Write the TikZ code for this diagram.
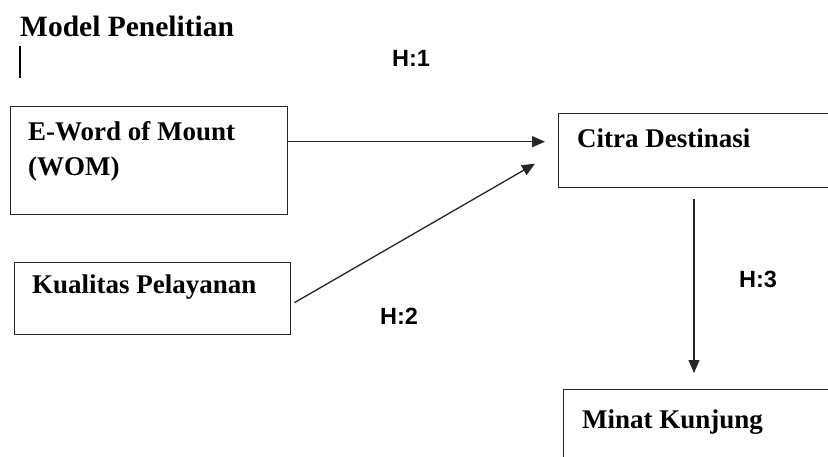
\documentclass[tikz,border=0pt]{standalone}
\usepackage{fontspec}
\setmainfont{Liberation Serif}
\newfontfamily\hfont{Liberation Sans}
\usetikzlibrary{arrows.meta}
\tikzset{
  varbox/.style={draw=black!85, line width=1.4pt, rectangle, inner sep=0pt, anchor=north west},
  boxtext/.style={anchor=base west, inner sep=0pt, font=\fontsize{27}{32}\selectfont\bfseries},
  hlabel/.style={anchor=base west, inner sep=0pt, font=\hfont\fontsize{23.5}{28}\selectfont\bfseries},
  arr/.style={draw=black!85, line width=1.3pt, -{Triangle[length=13pt,width=11pt]}}
}
\begin{document}
\begin{tikzpicture}[x=1pt,y=-1pt]
\clip (0,0) rectangle (828,457);
\fill[white] (0,0) rectangle (828,457);
% title
\node[anchor=base west, inner sep=0pt, font=\fontsize{29.5}{34}\selectfont\bfseries] (title) at (20,37) {Model Penelitian};
\coordinate (cTop) at (20,46);
\coordinate (cBot) at (20,78);
\draw[line width=1.3pt] (cTop) -- (cBot);
% boxes
\node[varbox, minimum width=277pt, minimum height=108pt] (wom) at (10,106) {};
\node[varbox, minimum width=276pt, minimum height=72pt] (kual) at (14,262) {};
\node[varbox, minimum width=282pt, minimum height=74pt] (citra) at (558,113) {};
\node[varbox, minimum width=277pt, minimum height=90pt] (minat) at (563,389) {};
% texts
\node[boxtext] (womA) at (28,141) {E-Word of Mount};
\node[boxtext] (womB) at (28,176) {(WOM)};
\node[boxtext] (kualT) at (32,294) {Kualitas Pelayanan};
\node[boxtext] (citraT) at (577,148) {Citra Destinasi};
\node[boxtext] (minatT) at (582,428) {Minat Kunjung};
% hypothesis labels
\node[hlabel] (h1) at (392,67) {H:1};
\node[hlabel] (h2) at (380,325) {H:2};
\node[hlabel] (h3) at (739,288) {H:3};
% arrows
\draw[arr] ([yshift=19pt]wom.east) -- ([xshift=-13pt,yshift=9pt]citra.west);
\draw[arr] ([xshift=3pt,yshift=-4pt]kual.east) -- ([xshift=-23pt,yshift=-13pt]citra.west);
\draw[arr] ([xshift=136pt,yshift=-11pt]citra.south west) -- ([xshift=131pt,yshift=16pt]minat.north west);
\end{tikzpicture}
\end{document}
